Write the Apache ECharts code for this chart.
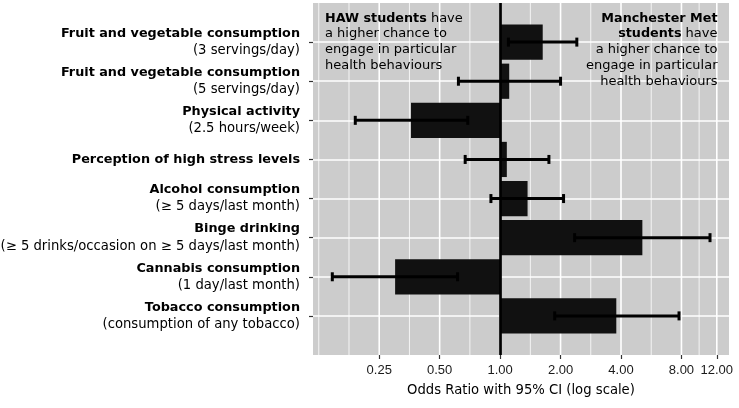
<!DOCTYPE html>
<html>
<head>
<meta charset="utf-8">
<script src="https://cdn.jsdelivr.net/npm/echarts@6/dist/echarts.min.js"></script>
<style>html,body{margin:0;padding:0;background:#fff}#c{width:739px;height:408px}</style>
</head>
<body>
<div id="c"></div>
<script>
const categories = [
  'Fruit and vegetable consumption',
  'Fruit and vegetable consumption',
  'Physical activity',
  'Perception of high stress levels',
  'Alcohol consumption',
  'Binge drinking',
  'Cannabis consumption',
  'Tobacco consumption'
];
const subtitles = [
  '(3 servings/day)',
  '(5 servings/day)',
  '(2.5 hours/week)',
  '',
  '(≥ 5 days/last month)',
  '(≥ 5 drinks/occasion on ≥ 5 days/last month)',
  '(1 day/last month)',
  '(consumption of any tobacco)'
];
const oddsRatio = [1.63, 1.11, 0.36, 1.08, 1.37, 5.11, 0.30, 3.79];
const ciLow     = [1.10, 0.62, 0.19, 0.67, 0.90, 2.35, 0.146, 1.87];
const ciHigh    = [2.41, 2.00, 0.69, 1.75, 2.07, 11.1, 0.614, 7.78];
const tickValues = [0.25, 0.5, 1, 2, 4, 8, 12];
const xMin = 0.117, xMax = 13.8;
const leftNote = '{b|HAW students} have\na higher chance to\nengage in particular\nhealth behaviours';
const rightNote = '{b|Manchester Met}\n{b|students} have\na higher chance to\nengage in particular\nhealth behaviours';
const axisTitle = 'Odds Ratio with 95% CI (log scale)';

const L = Math.log2;
const n = categories.length;
const yData = [''].concat(categories.map((c, i) =>
  subtitles[i] ? '{b|' + c + '}\n{r|' + subtitles[i] + '}' : '{b|' + c + '}'), ['']);
const majorLog = tickValues.map(L);
// ggplot-style minor breaks: midpoints in log space, extended one step below
const ext = [tickValues[0] / 2].concat(tickValues);
const minorVals = [ext[0]];
for (let i = 0; i < ext.length - 1; i++) minorVals.push(Math.sqrt(ext[i] * ext[i + 1]));
const inner = (i) => i > 0 && i < n + 1;

function vline(width) {
  return function (params, api) {
    const x = api.coord([api.value(0), 0])[0];
    const cs = params.coordSys;
    return { type: 'line', shape: { x1: x, y1: cs.y, x2: x, y2: cs.y + cs.height },
      style: { stroke: '#ffffff', lineWidth: width } };
  };
}

const chart = echarts.init(document.getElementById('c'));
chart.setOption({
  animation: false,
  grid: { left: 313, right: 10, top: 3, bottom: 53, backgroundColor: '#cccccc', show: true, borderWidth: 0,
    containLabel: false, outerBoundsMode: 'none' },
  xAxis: {
    type: 'value', min: L(xMin), max: L(xMax),
    axisLine: { show: false },
    splitLine: { show: false },
    axisTick: { show: true, customValues: majorLog, length: 4, lineStyle: { color: '#333', width: 1.2 } },
    axisLabel: { customValues: majorLog, margin: 9, color: '#1a1a1a', fontFamily: 'Liberation Sans', fontSize: 13,
      formatter: (v) => Math.pow(2, v).toFixed(2) },
    name: axisTitle, nameLocation: 'middle', nameGap: 29,
    nameTextStyle: { fontFamily: 'DejaVu Sans', fontSize: 13.2, color: '#000' }
  },
  yAxis: {
    type: 'category', inverse: true, boundaryGap: false, data: yData,
    axisLine: { show: false, onZero: false },
    axisTick: { show: true, interval: inner, length: 4, lineStyle: { color: '#333', width: 1.2 } },
    splitLine: { show: true, interval: inner, lineStyle: { color: '#ffffff', width: 1.6 } },
    axisLabel: { interval: 0, margin: 13, align: 'right', color: '#000', fontFamily: 'DejaVu Sans', fontSize: 13, lineHeight: 17,
      rich: {
        b: { fontWeight: 'bold', fontFamily: 'DejaVu Sans', fontSize: 12.8, lineHeight: 17, align: 'right' },
        r: { fontFamily: 'DejaVu Sans', fontSize: 13.2, lineHeight: 17, align: 'right' }
      } }
  },
  series: [
    { type: 'custom', z: 1, silent: true, renderItem: vline(0.8), encode: { x: 0, y: 1 },
      data: minorVals.map(v => [L(v), 0]) },
    { type: 'custom', z: 1, silent: true, renderItem: vline(1.6), encode: { x: 0, y: 1 },
      data: tickValues.map(v => [L(v), 0]) },
    { type: 'bar', z: 3, barWidth: '90%', itemStyle: { color: '#111111' },
      data: ['-'].concat(oddsRatio.map(L), ['-']),
      markLine: { silent: true, symbol: 'none', label: { show: false },
        lineStyle: { color: '#000', width: 2.7, type: 'solid' }, data: [{ xAxis: 0 }] } },
    { type: 'custom', z: 4, silent: true, encode: { x: [1, 2], y: 0 },
      data: ciLow.map((lo, i) => [i + 1, L(lo), L(ciHigh[i])]),
      renderItem: function (params, api) {
        const y = api.value(0);
        const p1 = api.coord([api.value(1), y]);
        const p2 = api.coord([api.value(2), y]);
        const c = 4.5;
        const st = { stroke: '#000', lineWidth: 3 };
        return { type: 'group', children: [
          { type: 'line', shape: { x1: p1[0], y1: p1[1], x2: p2[0], y2: p2[1] }, style: st },
          { type: 'line', shape: { x1: p1[0], y1: p1[1] - c, x2: p1[0], y2: p1[1] + c }, style: st },
          { type: 'line', shape: { x1: p2[0], y1: p2[1] - c, x2: p2[0], y2: p2[1] + c }, style: st }
        ] };
      } }
  ],
  graphic: [
    { type: 'text', x: 325, y: 10.5, z: 10,
      style: { text: leftNote, fill: '#000', font: '13px "DejaVu Sans"', lineHeight: 15.7, align: 'left', verticalAlign: 'top',
        rich: { b: { fontWeight: 'bold', fontFamily: 'DejaVu Sans', fontSize: 12.75, lineHeight: 15.7 } } } },
    { type: 'text', x: 717.5, y: 10.5, z: 10,
      style: { text: rightNote, fill: '#000', font: '13px "DejaVu Sans"', lineHeight: 15.7, align: 'right', verticalAlign: 'top',
        rich: { b: { fontWeight: 'bold', fontFamily: 'DejaVu Sans', fontSize: 12.75, lineHeight: 15.7 } } } }
  ]
});
</script>
</body>
</html>
